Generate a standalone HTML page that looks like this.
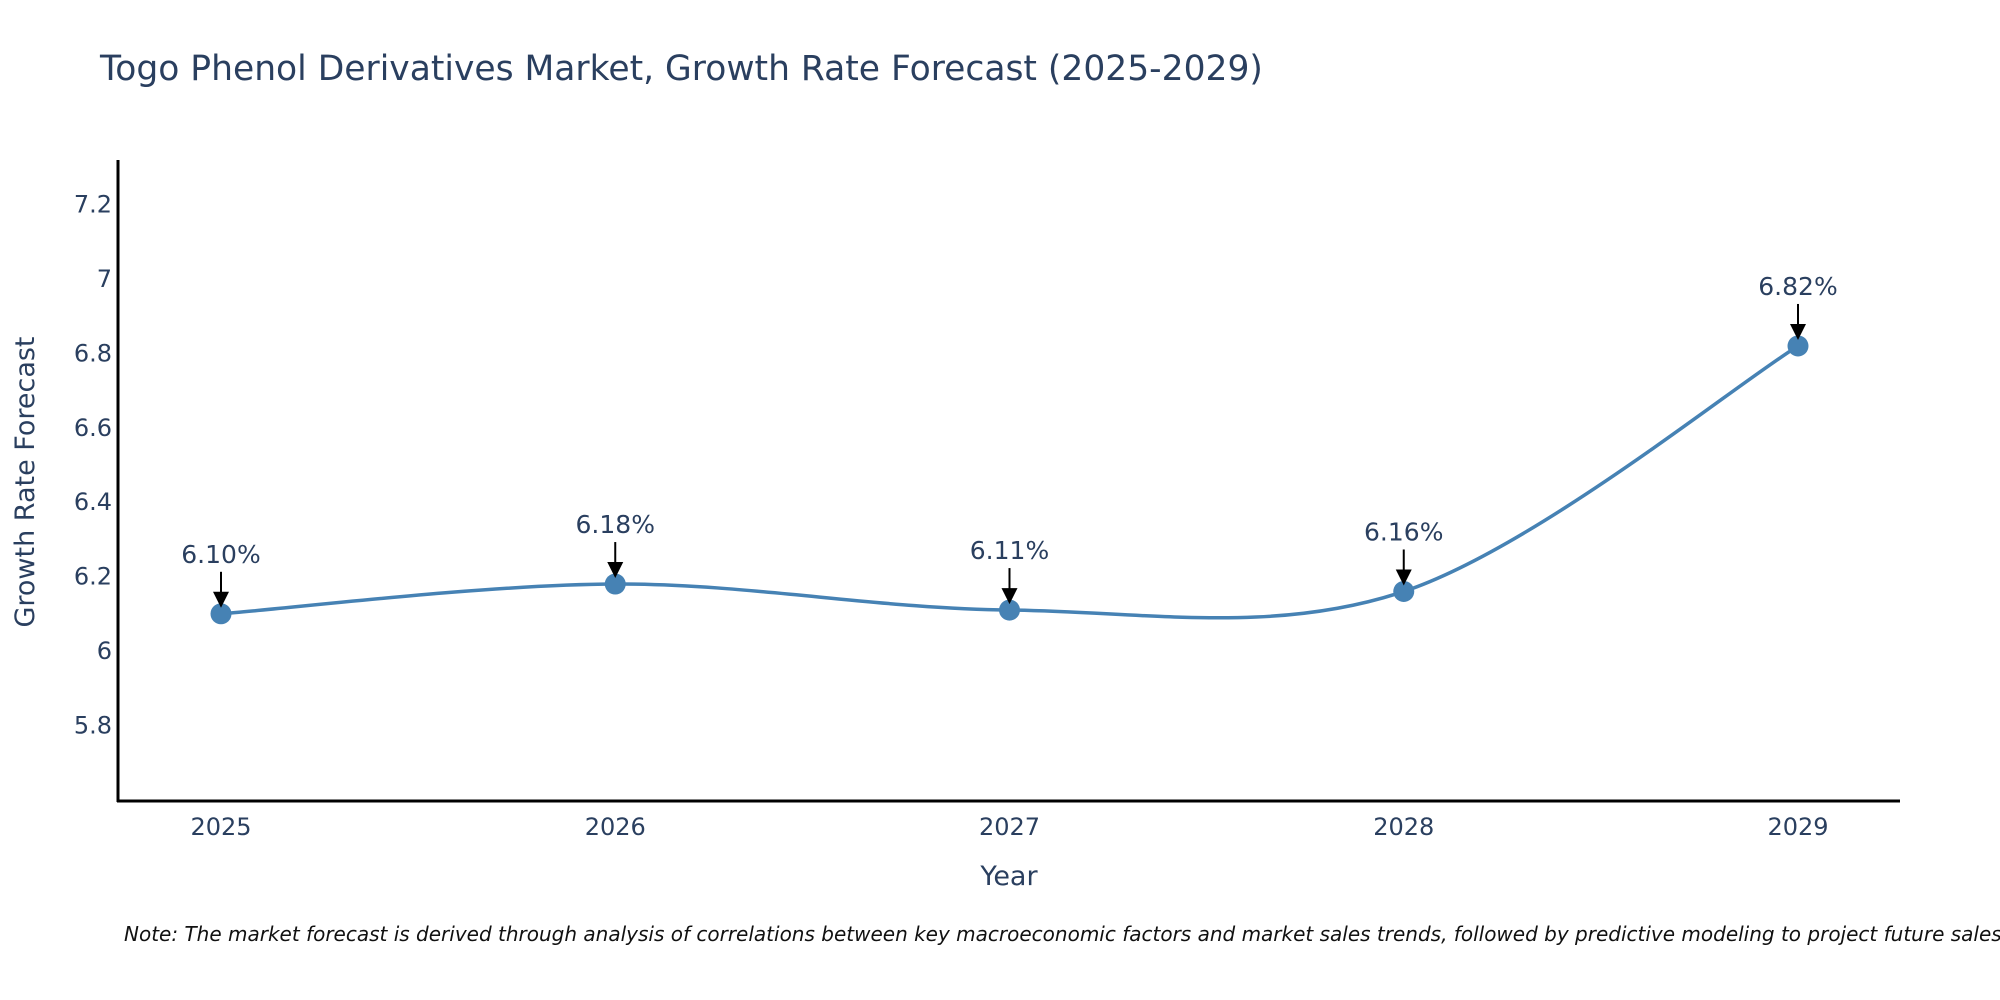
<!DOCTYPE html>
<html><head><meta charset="utf-8"><style>
body{margin:0;background:#fff;}
svg{display:block;font-family:"DejaVu Sans","Liberation Sans",sans-serif;}
</style></head><body>
<svg id="chart" width="2000" height="1000" viewBox="0 0 2000 1000">
<text x="100" y="80" font-size="34.5" fill="#2a3f5f">Togo Phenol Derivatives Market, Growth Rate Forecast (2025-2029)</text>
<g id="yticks"></g>
<g id="xticks"></g>
<path id="line" fill="none" stroke="#4682b4" stroke-width="3.5"></path>
<g id="points"></g>
<g id="annots"></g>
<line x1="118" y1="160" x2="118" y2="802" stroke="#000" stroke-width="3"/>
<line x1="117" y1="801" x2="1900" y2="801" stroke="#000" stroke-width="3"/>
<text x="0" y="0" transform="translate(34,482) rotate(-90)" text-anchor="middle" font-size="27" fill="#2a3f5f">Growth Rate Forecast</text>
<text x="1009" y="885" text-anchor="middle" font-size="27" fill="#2a3f5f">Year</text>
<text x="124" y="941" font-size="20" font-style="italic" fill="#111">Note: The market forecast is derived through analysis of correlations between key macroeconomic factors and market sales trends, followed by predictive modeling to project future sales.</text>
</svg>
<script>
const years = ["2025","2026","2027","2028","2029"];
const values = [6.10, 6.18, 6.11, 6.16, 6.82];
const labels = ["6.10%","6.18%","6.11%","6.16%","6.82%"];
const yTicks = [5.8, 6, 6.2, 6.4, 6.6, 6.8, 7, 7.2];

const NS="http://www.w3.org/2000/svg";
const x0=221, dx=394.25;
function xs(i){return x0+i*dx;}
function ys(v){return 651-(v-6)*(372/1);}
function mk(t,a,p){const e=document.createElementNS(NS,t);for(const k in a)e.setAttribute(k,a[k]);p.appendChild(e);return e;}

const yt=document.getElementById('yticks');
yTicks.forEach(v=>{const t=mk('text',{x:112,y:ys(v)+8,'text-anchor':'end','font-size':24,fill:'#2a3f5f'},yt);


t.textContent=String(v);});
const xt=document.getElementById('xticks');
years.forEach((y,i)=>{const t=mk('text',{x:xs(i),y:835,'text-anchor':'middle','font-size':24,fill:'#2a3f5f'},xt);


t.textContent=y;});

const P=values.map((v,i)=>[xs(i),ys(v)]);
let d=`M${P[0][0]},${P[0][1]}`;
const s=1/6;
for(let i=0;i<P.length-1;i++){
  const p0=P[Math.max(0,i-1)],p1=P[i],p2=P[i+1],p3=P[Math.min(P.length-1,i+2)];
  const c1=[p1[0]+(p2[0]-p0[0])*s,p1[1]+(p2[1]-p0[1])*s];
  const c2=[p2[0]-(p3[0]-p1[0])*s,p2[1]-(p3[1]-p1[1])*s];
  d+=` C${c1[0]},${c1[1]} ${c2[0]},${c2[1]} ${p2[0]},${p2[1]}`;
}
document.getElementById('line').setAttribute('d',d);

const pts=document.getElementById('points'), an=document.getElementById('annots');
P.forEach((p,i)=>{
  const c=mk('circle',{cx:p[0],cy:p[1],r:10.5,fill:'#4682b4'},pts);
  
  
  const l=mk('line',{x1:p[0],y1:p[1]-42,x2:p[0],y2:p[1]-18,stroke:'#000','stroke-width':2},an);
  
  
  const h=mk('polygon',{points:`${p[0]-8},${p[1]-22} ${p[0]+8},${p[1]-22} ${p[0]},${p[1]-6}`,fill:'#000'},an);
  
  
  const t=mk('text',{x:p[0],y:p[1]-51,'text-anchor':'middle','font-size':25,fill:'#2a3f5f'},an);
  
  
  t.textContent=labels[i];
});
</script>
</body></html>
